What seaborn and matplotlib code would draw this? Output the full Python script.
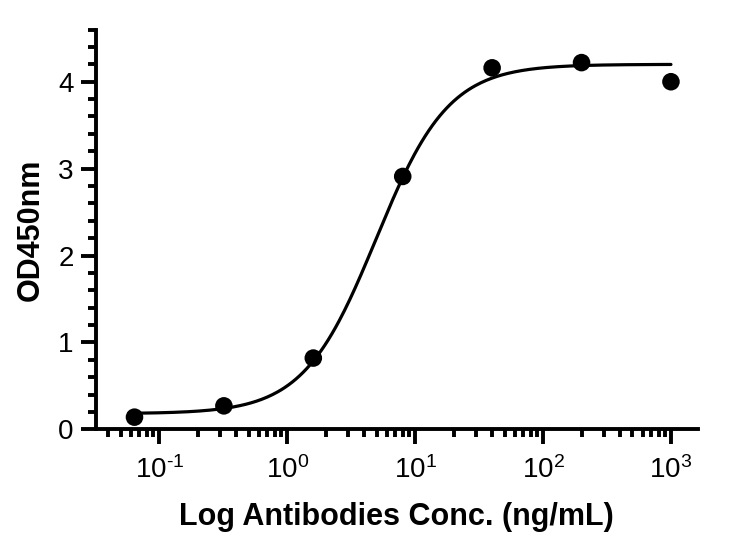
import numpy as np
import pandas as pd
import matplotlib
matplotlib.use('Agg')
import matplotlib.pyplot as plt
import matplotlib.ticker as mticker
import seaborn as sns

# 数据
conc = [0.064, 0.32, 1.6, 8, 40, 200, 1000]
od450 = [0.14, 0.27, 0.82, 2.91, 4.16, 4.22, 4.00]

# 四参数拟合曲线 (参数从图中估计)
fit_bottom = 0.18
fit_top = 4.20
fit_ec50 = 4.95
fit_hill = 1.53

sns.set_theme(style='ticks')
plt.rcParams['font.family'] = ['Liberation Sans', 'DejaVu Sans']
plt.rcParams['mathtext.fontset'] = 'custom'
plt.rcParams['mathtext.rm'] = 'Liberation Sans'
plt.rcParams['mathtext.default'] = 'regular'
plt.rcParams['axes.unicode_minus'] = False
plt.rcParams['text.color'] = 'black'
plt.rcParams['axes.labelcolor'] = 'black'
plt.rcParams['xtick.color'] = 'black'
plt.rcParams['ytick.color'] = 'black'
plt.rcParams['axes.edgecolor'] = 'black'

data = pd.DataFrame({'conc': conc, 'od': od450})
xs = np.logspace(np.log10(conc[0]), np.log10(conc[-1]), 300)
curve = pd.DataFrame({
    'conc': xs,
    'od': fit_bottom + (fit_top - fit_bottom) / (1 + (fit_ec50 / xs) ** fit_hill),
})

fig = plt.figure(figsize=(7.51, 5.46), dpi=100)
ax = fig.add_axes([0.1278, 0.2137, 0.8013, 0.7321])

sns.lineplot(data=curve, x='conc', y='od', ax=ax, color='black', linewidth=2.3)
sns.scatterplot(data=data, x='conc', y='od', ax=ax, color='black', s=160,
                edgecolor='none', zorder=3, clip_on=False)


def pow10(v, pos):
    e = int(round(np.log10(v)))
    if e < 0:
        return r'$10^{\text{-}%d}$' % (-e)
    return r'$10^{%d}$' % e


ax.set_xscale('log')
ax.set_xlim(0.032, 1620)
ax.set_ylim(0, 4.6)
ax.set_yticks([0, 1, 2, 3, 4])
ax.yaxis.set_minor_locator(mticker.MultipleLocator(0.2))
ax.xaxis.set_major_locator(mticker.LogLocator(base=10, numticks=10))
ax.xaxis.set_major_formatter(mticker.FuncFormatter(pow10))
ax.xaxis.set_minor_locator(mticker.LogLocator(base=10, subs=np.arange(2, 10), numticks=20))
ax.xaxis.set_minor_formatter(mticker.NullFormatter())

sns.despine(ax=ax)
for side in ['left', 'bottom']:
    ax.spines[side].set_linewidth(2.8)
ax.tick_params(which='major', length=11, width=2.8, labelsize=20, pad=5)
ax.tick_params(which='minor', length=6, width=2.8)
ax.tick_params(axis='x', which='major', pad=8)

ax.set_xlabel('Log Antibodies Conc. (ng/mL)', fontsize=22, fontweight='bold', labelpad=13)
ax.set_ylabel('OD450nm', fontsize=22, fontweight='bold', labelpad=9)

fig.savefig('out.png', dpi=100)
